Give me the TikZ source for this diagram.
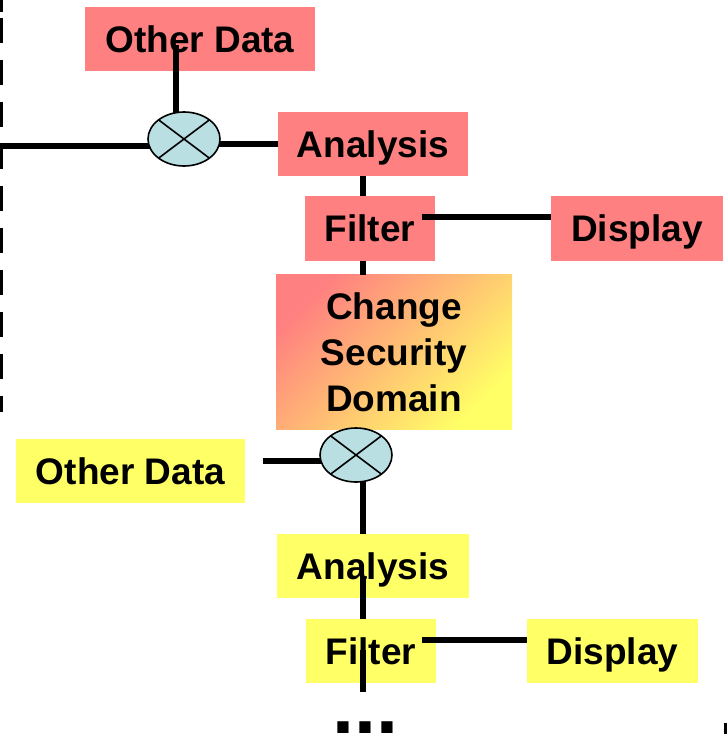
\documentclass[tikz,border=0pt]{standalone}
\usepackage{fontspec}
\setmainfont{Liberation Sans}
\usetikzlibrary{shapes.geometric}
\definecolor{salmon}{RGB}{255,128,128}
\definecolor{lemon}{RGB}{255,255,102}
\definecolor{mixblue}{RGB}{185,223,227}
\pgfdeclarelayer{back}
\pgfsetlayers{back,main}
\begin{document}
\begin{tikzpicture}[x=1pt,y=-1pt,
  box/.style={rectangle, inner sep=0pt, outer sep=0pt, font=\fontsize{37}{46}\selectfont\bfseries, align=center},
  onebox/.style={box, text height=26.5pt, text depth=0pt},
  redbox/.style={onebox, fill=salmon},
  yelbox/.style={onebox, fill=lemon},
  mixer/.style={ellipse, draw=black, line width=1.6pt, fill=mixblue, minimum width=72pt, minimum height=54pt, inner sep=0pt, outer sep=0pt},
  cross/.style={line width=1.6pt},
  wire/.style={line width=5.5pt},
  dashline/.style={line width=3pt, dash pattern=on 25pt off 17pt},
  tick/.style={line width=3pt}]
\useasboundingbox (0,0) rectangle (727,734);
\coordinate (sp) at (363,0);
% mixers (on top)
\node[mixer] (m1) at (184,139) {};
\draw[cross] (m1.143) -- (m1.-37) (m1.37) -- (m1.-143);
\node[mixer] (m2) at (356,455) {};
\draw[cross] (m2.143) -- (m2.-37) (m2.37) -- (m2.-143);
\begin{pgfonlayer}{back}
% left dashed border
\draw[tick] (1,0) -- (1,12);
\draw[dashline] (1,18) -- (1,412);
\coordinate (lft) at (0,146);
\draw[wire] (lft) -- (lft -| m1.center);
% upper (red) chain
\node[redbox, minimum width=230pt, minimum height=64pt] (od1) at (200,39) {Other Data};
\coordinate (od1w) at (176,45);
\draw[wire] (od1w) -- (od1w |- m1.center);
\node[redbox, minimum width=190pt, minimum height=64pt] (a1) at (373,144) {Analysis};
\draw[wire] (m1.center |- a1.west) -- (a1.west);
\node[redbox, minimum width=130pt, minimum height=65pt] (f1) at (370,228.5) {Filter};
\node[redbox, minimum width=172pt, minimum height=65pt] (d1) at (637,228.5) {Display};
\draw[wire] (a1.south -| sp) -- (f1.north -| sp);
\coordinate (f1e) at (422,217);
\draw[wire] (f1e) -- (f1e -| d1.west);
\node[box, minimum width=236pt, minimum height=155pt, top color=salmon, bottom color=lemon, shading angle=45] (cs) at (394,352) {Change\\Security\\Domain};
\draw[wire] (f1.south -| sp) -- (cs.north -| sp);
% lower (yellow) chain
\node[yelbox, minimum width=229pt, minimum height=64pt] (od2) at (130.5,471) {Other Data};
\coordinate (od2e) at (263,461);
\draw[wire] (od2e) -- (od2e -| m2.center);
\node[yelbox, minimum width=192pt, minimum height=64pt] (a2) at (373,566) {Analysis};
\draw[wire] (m2.center -| sp) -- (a2.north -| sp);
\coordinate (a2c) at (363,577);
\coordinate (f2c) at (363,650);
\coordinate (tail) at (363,692);
\draw[wire] (a2c) -- (tail);
\node[yelbox, minimum width=130pt, minimum height=64pt] (f2) at (371,651) {Filter};
\draw[wire] (f2c) -- (tail);
\node[yelbox, minimum width=171pt, minimum height=64pt] (d2) at (612.5,651) {Display};
\coordinate (f2e) at (422,640);
\draw[wire] (f2e) -- (f2e -| d2.west);
\node[font=\fontsize{79}{79}\selectfont\bfseries, inner sep=0pt, anchor=base west] (dots) at (332,733) {...};
\draw[tick] (725.5,723) -- (725.5,734);
\end{pgfonlayer}
\end{tikzpicture}
\end{document}
